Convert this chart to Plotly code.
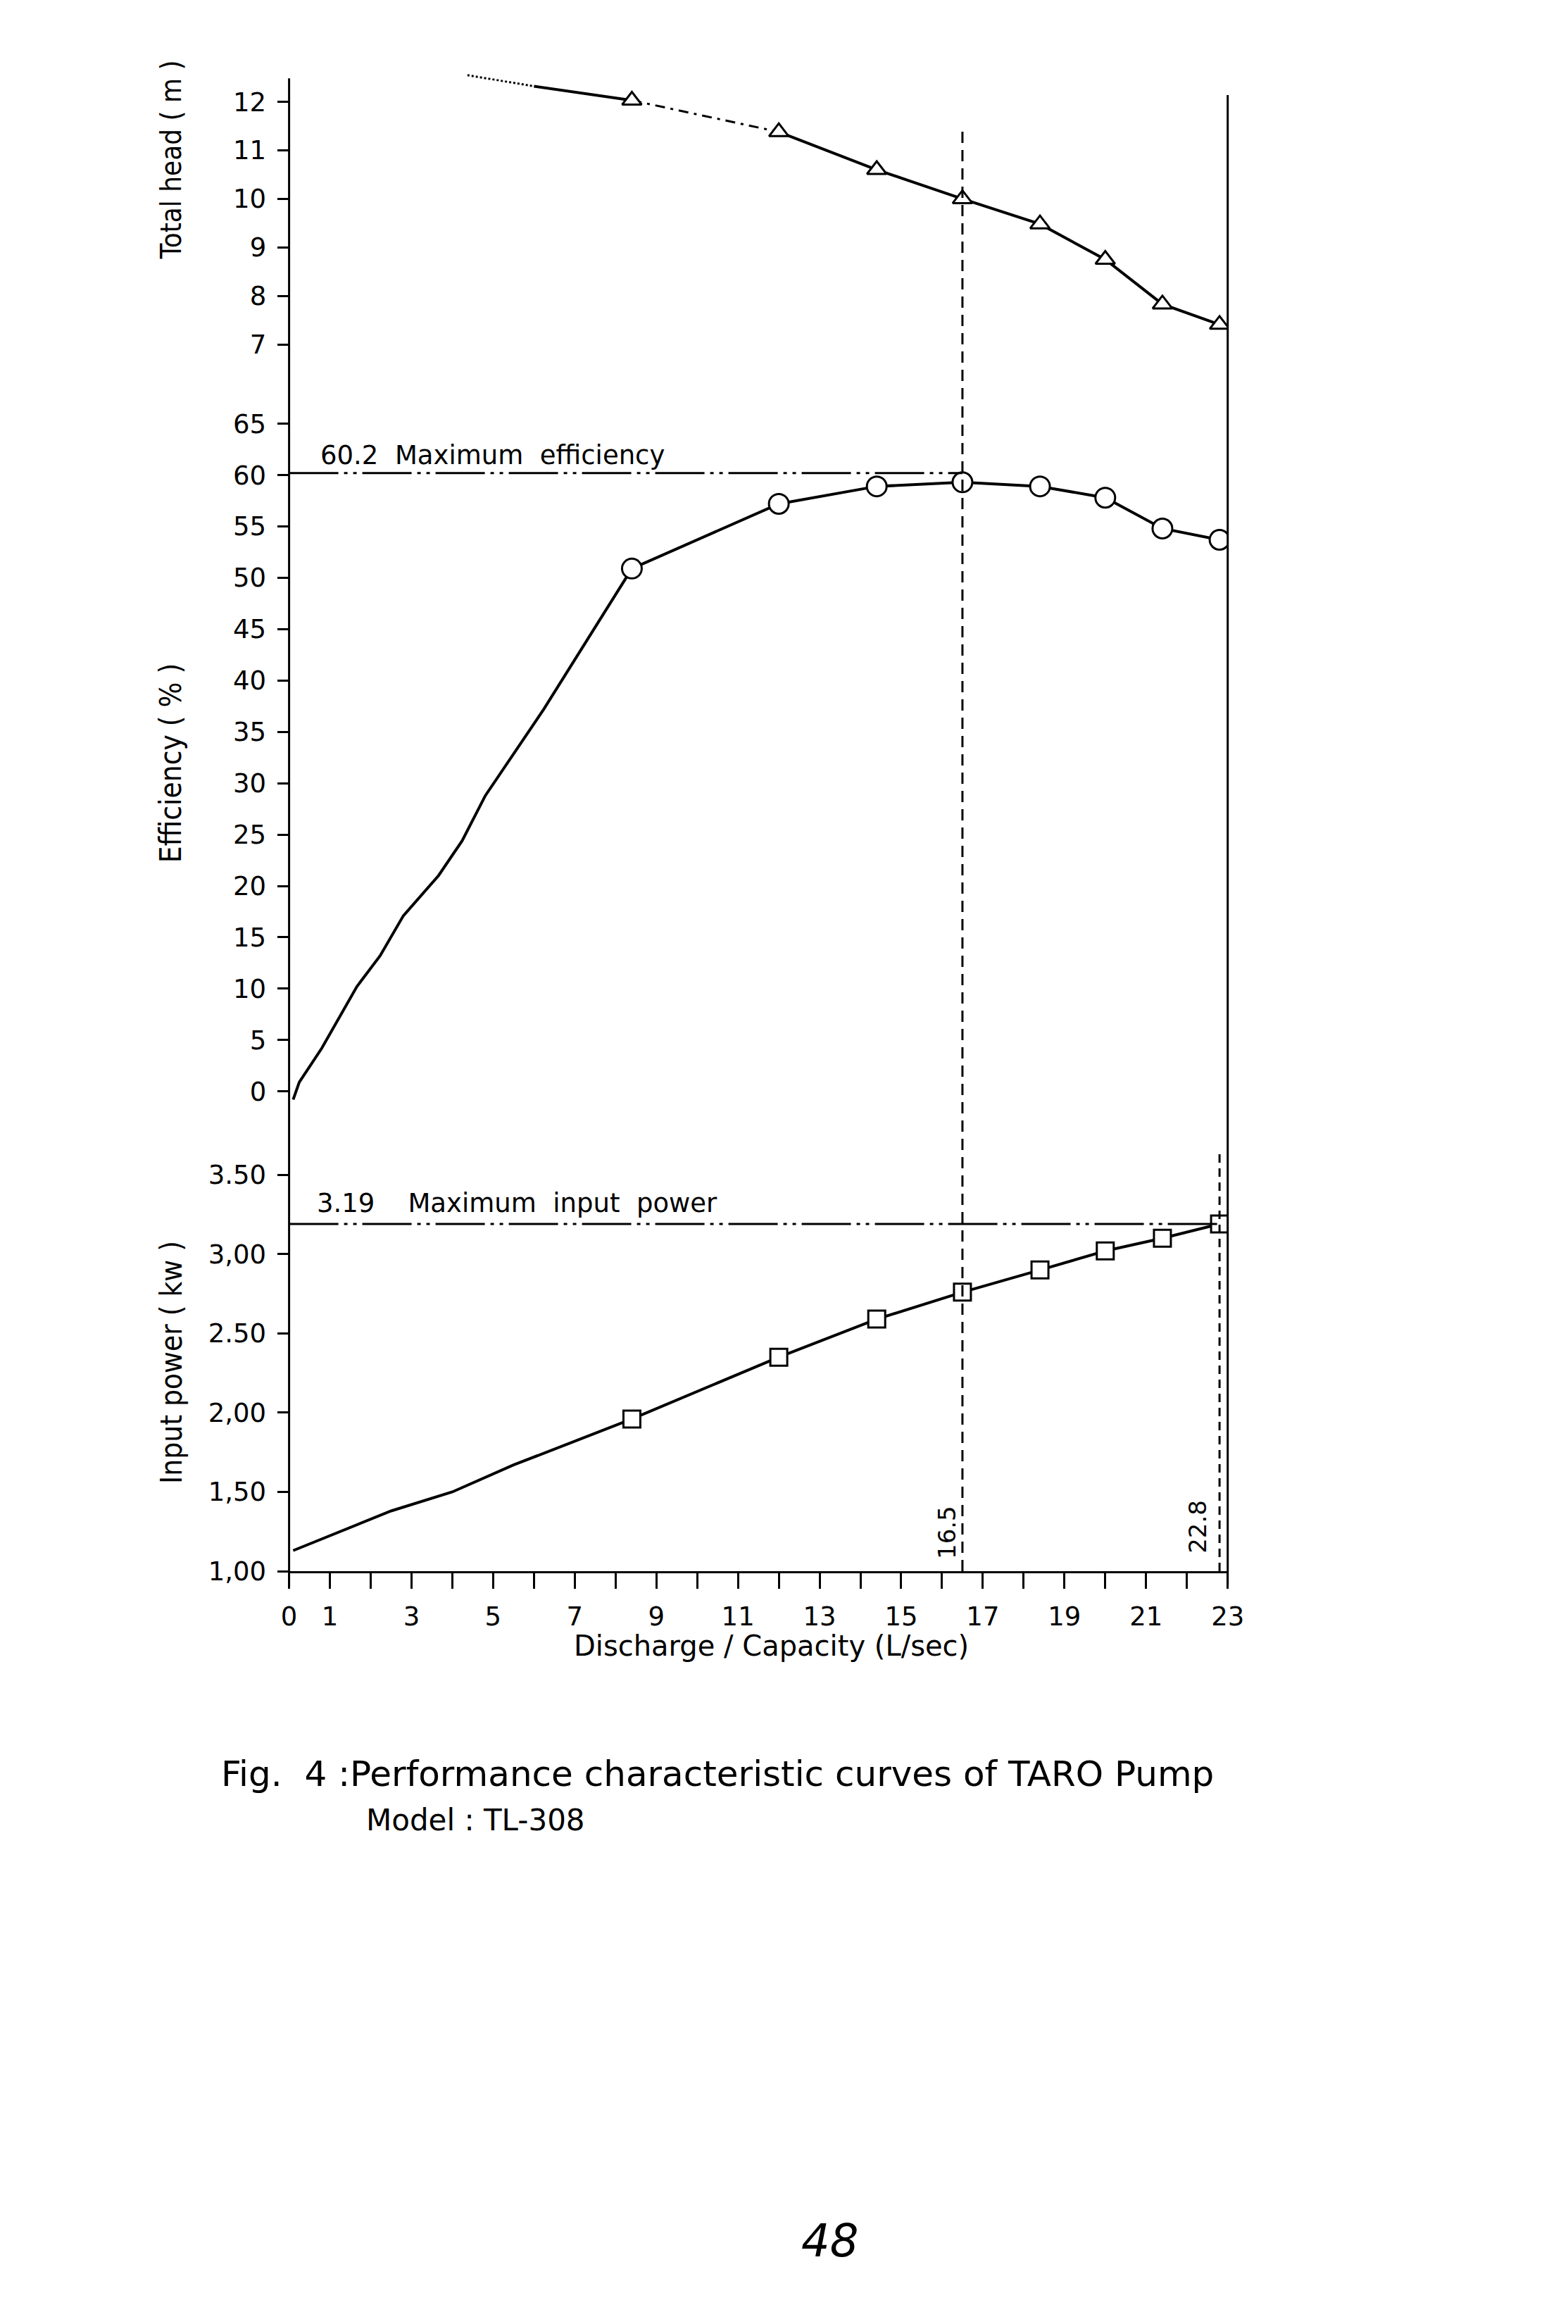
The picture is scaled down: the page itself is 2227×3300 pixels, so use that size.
import plotly.graph_objects as go

# ---------------- data ----------------
# measured discharge points (L/sec)
Q_pts = [8.4, 12.0, 14.4, 16.5, 18.4, 20.0, 21.4, 22.8]
head_pts = [12.03, 11.38, 10.6, 10.0, 9.48, 8.75, 7.83, 7.41]          # m
eff_pts = [50.9, 57.2, 58.9, 59.3, 58.9, 57.8, 54.8, 53.7]             # %
power_pts = [1.96, 2.35, 2.59, 2.76, 2.90, 3.02, 3.10, 3.19]           # kW

# head curve pieces (dotted lead, solid, broken, solid)
head_lead_Q = [4.37, 6.0]
head_lead_H = [12.55, 12.32]
head_mid_Q = [6.0, 8.4]
head_mid_H = [12.32, 12.03]
head_brk_Q = [8.4, 12.0]
head_brk_H = [12.03, 11.38]

# efficiency lead-in curve (no markers)
eff_lead_Q = [0.1, 0.25, 0.8, 1.66, 2.23, 2.8, 3.66, 4.24, 4.81, 6.24, 8.4]
eff_lead_E = [-0.8, 0.9, 4.2, 10.2, 13.2, 17.1, 21.0, 24.4, 28.8, 37.2, 50.9]

# input power lead-in curve
pow_lead_Q = [0.1, 2.5, 4.0, 5.5, 8.4]
pow_lead_P = [1.13, 1.38, 1.50, 1.67, 1.96]

MAX_EFF = 60.2
MAX_POWER = 3.19
BEP_Q = 16.5
MAX_Q = 22.8

head_ticks = [7, 8, 9, 10, 11, 12]
eff_ticks = list(range(0, 70, 5))
power_ticks = [1.0, 1.5, 2.0, 2.5, 3.0, 3.5]
power_ticktext = ["1,00", "1,50", "2,00", "2.50", "3,00", "3.50"]
x_ticks = list(range(0, 24))
x_ticktext = ["0"] + [str(v) if v % 2 == 1 else "" for v in range(1, 24)]

# ---------------- layout helpers ----------------
W, H = 2227, 3300
X0_PX, X1_PX = 397, 1752
XD = [X0_PX / W, X1_PX / W]
XR = [0, 23]


def xp(q):
    return XD[0] + (XD[1] - XD[0]) * (q - XR[0]) / (XR[1] - XR[0])


def yp(px):
    return 1 - px / H


SANS = "DejaVu Sans, Verdana, sans-serif"
TICK_FONT = dict(family=SANS, size=37, color="black")
NARROW = "Liberation Sans Narrow, DejaVu Sans Condensed, Arial Narrow, sans-serif"
LW = 4

fig = go.Figure()

# ----- head -----
fig.add_trace(go.Scatter(x=head_lead_Q, y=head_lead_H, mode="lines", xaxis="x", yaxis="y3",
                         line=dict(color="black", width=3, dash="dot")))
fig.add_trace(go.Scatter(x=head_mid_Q, y=head_mid_H, mode="lines", xaxis="x", yaxis="y3",
                         line=dict(color="black", width=LW)))
fig.add_trace(go.Scatter(x=head_brk_Q, y=head_brk_H, mode="lines", xaxis="x", yaxis="y3",
                         line=dict(color="black", width=3, dash="14px,8px,4px,8px")))
fig.add_trace(go.Scatter(x=Q_pts[1:], y=head_pts[1:], mode="lines", xaxis="x", yaxis="y3",
                         line=dict(color="black", width=LW)))
fig.add_trace(go.Scatter(x=Q_pts, y=head_pts, mode="markers", xaxis="x", yaxis="y3",
                         marker=dict(symbol="triangle-up", size=24, color="white",
                                     line=dict(color="black", width=3))))

# ----- efficiency -----
fig.add_trace(go.Scatter(x=eff_lead_Q + Q_pts[1:], y=eff_lead_E + eff_pts[1:], mode="lines",
                         xaxis="x", yaxis="y2", line=dict(color="black", width=LW)))
fig.add_trace(go.Scatter(x=Q_pts, y=eff_pts, mode="markers", xaxis="x", yaxis="y2",
                         marker=dict(symbol="circle", size=28, color="white",
                                     line=dict(color="black", width=3))))

# ----- input power -----
fig.add_trace(go.Scatter(x=pow_lead_Q + Q_pts[1:], y=pow_lead_P + power_pts[1:], mode="lines",
                         xaxis="x", yaxis="y", line=dict(color="black", width=LW)))
fig.add_trace(go.Scatter(x=Q_pts, y=power_pts, mode="markers", xaxis="x", yaxis="y",
                         marker=dict(symbol="square", size=24, color="white",
                                     line=dict(color="black", width=3))))

yax_common = dict(anchor="x", showline=False, showgrid=False, zeroline=False,
                  ticks="outside", ticklen=16, tickwidth=3, tickcolor="black",
                  tickfont=TICK_FONT, ticklabelstandoff=8)

fig.update_layout(
    width=W, height=H,
    margin=dict(l=0, r=0, t=0, b=0),
    paper_bgcolor="white", plot_bgcolor="rgba(0,0,0,0)",
    showlegend=False,
    xaxis=dict(domain=XD, range=XR, anchor="y", showline=True, linecolor="black", linewidth=3,
               showgrid=False, zeroline=False, ticks="outside", ticklen=22, tickwidth=3,
               tickcolor="black", tickvals=x_ticks, ticktext=x_ticktext, tickfont=TICK_FONT,
               ticklabelstandoff=8),
    yaxis=dict(domain=[yp(2236), yp(1623)], range=[1.0, 3.7], tickvals=power_ticks,
               ticktext=power_ticktext, **yax_common),
    yaxis2=dict(domain=[yp(1571), yp(578)], range=[-1.5, 66], tickvals=eff_ticks, **yax_common),
    yaxis3=dict(domain=[yp(500), yp(90)], range=[6.7, 12.6], tickvals=head_ticks, **yax_common),
)

shapes = [
    # left and right frame lines
    dict(type="line", xref="paper", yref="paper", x0=xp(0), x1=xp(0), y0=yp(2258), y1=yp(98),
         line=dict(color="black", width=3)),
    dict(type="line", xref="paper", yref="paper", x0=xp(23), x1=xp(23), y0=yp(2256), y1=yp(122),
         line=dict(color="black", width=3)),
    # best efficiency point discharge
    dict(type="line", xref="paper", yref="paper", x0=xp(BEP_Q), x1=xp(BEP_Q), y0=yp(2236), y1=yp(168),
         line=dict(color="black", width=3, dash="16px,10px")),
    # maximum discharge
    dict(type="line", xref="paper", yref="y", x0=xp(MAX_Q), x1=xp(MAX_Q), y0=1.0, y1=3.63,
         line=dict(color="black", width=3, dash="12px,8px")),
    # max efficiency line
    dict(type="line", xref="x", yref="y2", x0=0, x1=BEP_Q, y0=MAX_EFF, y1=MAX_EFF,
         line=dict(color="black", width=3, dash="70px,8px,5px,8px,5px,8px")),
    # max input power line
    dict(type="line", xref="x", yref="y", x0=0, x1=MAX_Q, y0=MAX_POWER, y1=MAX_POWER,
         line=dict(color="black", width=3, dash="70px,8px,5px,8px,5px,8px")),
]
fig.update_layout(shapes=shapes)

ann = [
    dict(text="60.2  Maximum  efficiency", xref="x", yref="y2", x=0.73, y=61.9,
         xanchor="left", yanchor="middle", showarrow=False,
         font=dict(family=SANS, size=37, color="black")),
    dict(text="3.19    Maximum  input  power", xref="x", yref="y", x=0.65, y=3.32,
         xanchor="left", yanchor="middle", showarrow=False,
         font=dict(family=SANS, size=37, color="black")),
    dict(text="16.5", xref="x", yref="y", x=16.11, y=1.246, textangle=-90, showarrow=False,
         xanchor="center", yanchor="middle",
         font=dict(family=SANS, size=34, color="black")),
    dict(text="22.8", xref="x", yref="y", x=22.26, y=1.28, textangle=-90, showarrow=False,
         xanchor="center", yanchor="middle",
         font=dict(family=SANS, size=34, color="black")),
    dict(text="Total head ( m )", xref="paper", yref="paper", x=227 / W, y=yp(215), textangle=-90,
         showarrow=False, xanchor="center", yanchor="middle",
         font=dict(family=NARROW, size=40, color="black")),
    dict(text="Efficiency ( % )", xref="paper", yref="paper", x=227 / W, y=yp(1079), textangle=-90,
         showarrow=False, xanchor="center", yanchor="middle",
         font=dict(family=NARROW, size=42, color="black")),
    dict(text="Input power ( kw )", xref="paper", yref="paper", x=227 / W, y=yp(1937), textangle=-90,
         showarrow=False, xanchor="center", yanchor="middle",
         font=dict(family=NARROW, size=42, color="black")),
    dict(text="Discharge / Capacity (L/sec)", xref="paper", yref="paper", x=1093 / W, y=yp(2343),
         showarrow=False, xanchor="center", yanchor="middle",
         font=dict(family=SANS, size=40, color="black")),
    dict(text="Fig.  4 :Performance characteristic curves of TARO Pump", xref="paper", yref="paper",
         x=297 / W, y=yp(2526), showarrow=False, xanchor="left", yanchor="middle",
         font=dict(family=SANS, size=50, color="black")),
    dict(text="Model : TL-308", xref="paper", yref="paper",
         x=506 / W, y=yp(2592), showarrow=False, xanchor="left", yanchor="middle",
         font=dict(family=SANS, size=42, color="black")),
    dict(text="48", xref="paper", yref="paper", x=1178 / W, y=yp(3195), showarrow=False,
         xanchor="center", yanchor="middle",
         font=dict(family=SANS, size=64, color="black", style="italic")),
]
fig.update_layout(annotations=ann)

fig.write_html("out.html")
